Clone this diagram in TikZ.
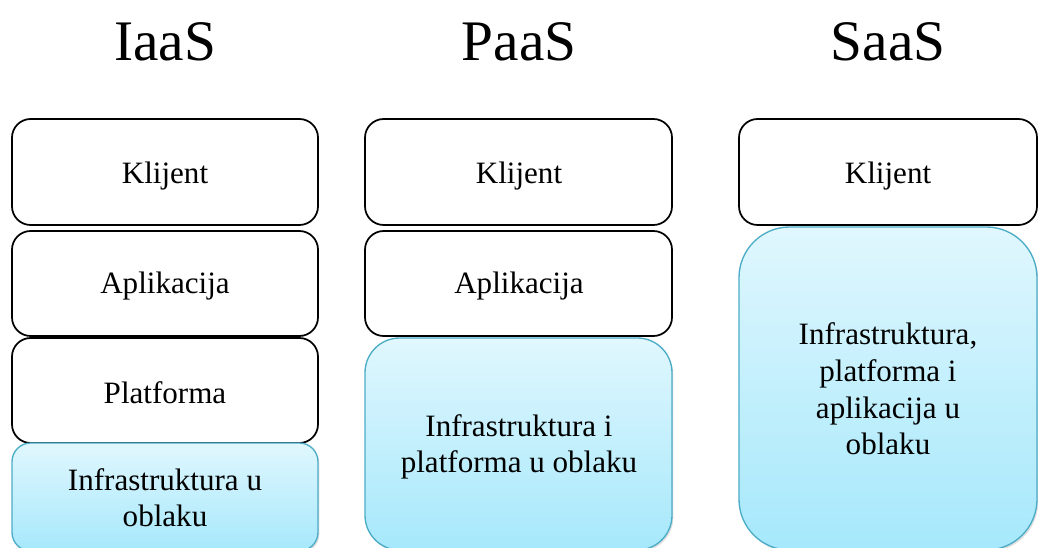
\documentclass[tikz,border=0pt]{standalone}
\usepackage{fontspec}
\setmainfont{Liberation Serif}
\usetikzlibrary{shadows}
\definecolor{cloudtop}{RGB}{224,247,253}
\definecolor{cloudbot}{RGB}{166,232,252}
\definecolor{cloudline}{RGB}{75,172,198}
\tikzset{
    layer/.style={draw, line width=1.3pt, rounded corners=14pt, fill=white},
    cloud/.style={draw=cloudline, line width=1pt, top color=cloudtop, bottom color=cloudbot,
        drop shadow={opacity=.25, shadow xshift=1pt, shadow yshift=-1.5pt}},
    label text/.style={align=center, inner sep=0pt, anchor=base,
        font=\fontsize{23.3}{27.5}\selectfont},
    model/.style={font=\fontsize{43}{50}\selectfont, inner sep=0pt}
}
\begin{document}
\begin{tikzpicture}[x=0.75pt,y=-0.75pt]
        \useasboundingbox (0,0) rectangle (1038,548);
        \node [model] (iaas) at (165,42) {IaaS};
        \node [model] (paas) at (519,42) {PaaS};
        \node [model] (saas) at (888,42) {SaaS};
        \draw [layer] (12,119) rectangle (318,225);
        \draw [layer] (12,231) rectangle (318,336);
        \draw [layer] (12,338) rectangle (318,443);
        \draw [cloud, rounded corners=14pt] (12,443) rectangle (318,551);
        \draw [layer] (365,119) rectangle (672,225);
        \draw [layer] (365,231) rectangle (672,336);
        \draw [cloud, rounded corners=26pt] (365,338) rectangle (672,550);
        \draw [layer] (739,119) rectangle (1037,225);
        \draw [cloud, rounded corners=38pt] (739,227) rectangle (1037,550);
        \node [label text] (iklijent) at (165,183.3) {Klijent};
        \node [label text] (iaplikacija) at (165,293.3) {Aplikacija};
        \node [label text] (iplatforma) at (165,403.3) {Platforma};
        \node [label text] (iinfra) at (165,526.7) {Infrastruktura u\\oblaku};
        \node [label text] (pklijent) at (519,183.3) {Klijent};
        \node [label text] (paplikacija) at (519,293.3) {Aplikacija};
        \node [label text] (pinfra) at (519,472.7) {Infrastruktura i\\platforma u oblaku};
        \node [label text] (sklijent) at (888,183.3) {Klijent};
        \node [label text] (sinfra) at (888,455) {Infrastruktura,\\platforma i\\aplikacija u\\oblaku};
\end{tikzpicture}
\end{document}
